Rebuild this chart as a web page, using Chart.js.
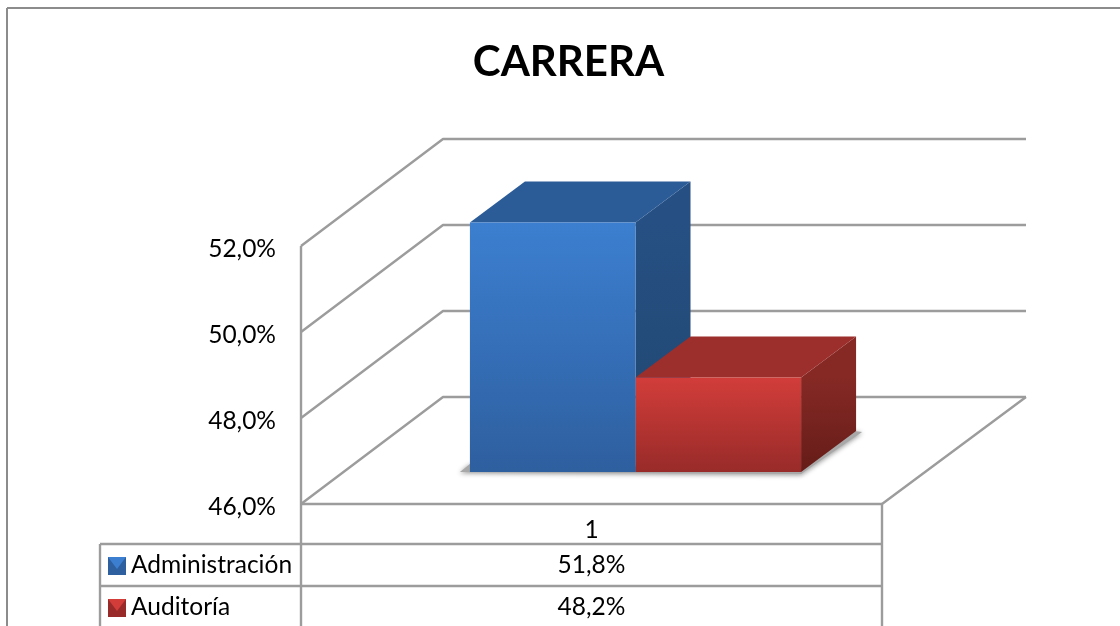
<!DOCTYPE html>
<html>
<head>
<meta charset="utf-8">
<title>CARRERA</title>
<script src="https://cdn.jsdelivr.net/npm/chart.js@4"></script>
<style>
  html, body { margin: 0; padding: 0; background: #fff; overflow: hidden; }
  #wrap { width: 1120px; height: 626px; }
</style>
</head>
<body>
<div id="wrap"><canvas id="myChart" width="1120" height="626"></canvas></div>
<script>
const chartTitle = 'CARRERA';
const categories = ['1'];
const seriesNames = ['Administración', 'Auditoría'];
const administracion = [51.8];
const auditoria = [48.2];
const yTicks = [46, 48, 50, 52];

const fontName = 'Lato';
const lineColor = '#9c9c9c';

// colores de cada serie: frente arriba, frente abajo, tapa, lado arriba, lado abajo
const blues = ['#3c7fd0', '#2e5f9f', '#2c5c98', '#265083', '#214770'];
const reds = ['#d23d3a', '#982b29', '#9c2e2b', '#862925', '#651c18'];

// profundidad de la pared y de las barras
const wallX = 142, wallY = -107;
const barX = 44, barY = -32;
const depthX = 55, depthY = -41;

function pct(v) {
    return v.toFixed(1).replace('.', ',') + '%';
}

function frontGradient(context, colors) {
    const chart = context.chart;
    const y = chart.scales.y;
    if (!y) return colors[0];
    const top = y.getPixelForValue(context.dataset.data[0]);
    const bottom = y.getPixelForValue(yTicks[0]);
    if (!isFinite(top) || !isFinite(bottom)) return colors[0];
    const g = chart.ctx.createLinearGradient(0, top, 0, bottom);
    g.addColorStop(0, colors[0]);
    g.addColorStop(1, colors[1]);
    return g;
}

function line(ctx, x1, y1, x2, y2) {
    ctx.beginPath();
    ctx.moveTo(x1, y1);
    ctx.lineTo(x2, y2);
    ctx.stroke();
}

function poly(ctx, pts, fill) {
    ctx.beginPath();
    ctx.moveTo(pts[0][0], pts[0][1]);
    for (let i = 1; i < pts.length; i++) ctx.lineTo(pts[i][0], pts[i][1]);
    ctx.closePath();
    ctx.fillStyle = fill;
    ctx.fill();
}

// paredes, piso y caras de las barras que Chart.js no dibuja
const box3d = {
    id: 'box3d',
    afterLayout(chart) {
        // el titulo va centrado un poco a la derecha del lienzo
        chart.titleBlock.left += 54;
    },
    beforeDatasetsDraw(chart) {
        const ctx = chart.ctx;
        const area = chart.chartArea;
        const y = chart.scales.y;
        const floorY = y.getPixelForValue(yTicks[0]);
        ctx.save();
        ctx.strokeStyle = lineColor;
        ctx.lineWidth = 2.4;
        ctx.lineJoin = 'round';

        line(ctx, area.left, area.top, area.left, area.bottom);
        yTicks.forEach(function (t) {
            const py = y.getPixelForValue(t);
            ctx.beginPath();
            ctx.moveTo(area.left, py);
            ctx.lineTo(area.left + wallX, py + wallY);
            ctx.lineTo(area.right + wallX + 2, py + wallY);
            ctx.stroke();
        });
        // piso
        line(ctx, area.left, area.bottom, area.right, area.bottom);
        line(ctx, area.right, area.bottom, area.right + wallX + 2, area.bottom + wallY);

        // sombra de las barras
        const m0 = chart.getDatasetMeta(0).data[0];
        const m1 = chart.getDatasetMeta(1).data[0];
        const base = floorY + barY;
        const l = m0.x - m0.width / 2 + barX;
        const r = m1.x + m1.width / 2 + barX;
        ctx.save();
        ctx.shadowColor = 'rgba(0,0,0,0.45)';
        ctx.shadowBlur = 5;
        ctx.shadowOffsetY = 1;
        poly(ctx, [[l - 10, base], [r, base + 2], [r + depthX + 6, base + depthY + 1], [r + depthX - 2, base + depthY], [r, base - 3], [l, base - 8]], '#a8a8a8');
        ctx.restore();

        [blues, reds].forEach(function (colors, i) {
            const bar = chart.getDatasetMeta(i).data[0];
            const x0 = bar.x - bar.width / 2 + barX;
            const x1 = bar.x + bar.width / 2 + barX;
            const top = bar.y + barY;
            const side = ctx.createLinearGradient(0, top, 0, base);
            side.addColorStop(0, colors[3]);
            side.addColorStop(1, colors[4]);
            poly(ctx, [[x1, top], [x1 + depthX, top + depthY], [x1 + depthX, base + depthY], [x1, base]], side);
            poly(ctx, [[x0, top], [x0 + depthX, top + depthY], [x1 + depthX, top + depthY], [x1, top]], colors[2]);
        });
        ctx.restore();

        // las caras frontales salen corridas hacia el fondo
        ctx.save();
        ctx.translate(barX, barY);
    },
    afterDatasetsDraw(chart) {
        chart.ctx.restore();
    },
    afterDraw(chart) {
        const ctx = chart.ctx;
        const area = chart.chartArea;
        const tableLeft = 100, row1 = 544, row2 = 586, bottom = 626;
        const midX = (area.left + area.right) / 2;
        ctx.save();

        // marco exterior
        ctx.strokeStyle = '#8c8c8c';
        ctx.lineWidth = 2;
        line(ctx, 7, 8, 1120, 8);
        line(ctx, 7, 8, 7, bottom);

        // tabla de datos
        ctx.strokeStyle = lineColor;
        ctx.lineWidth = 2.4;
        line(ctx, tableLeft, row1, area.right, row1);
        line(ctx, tableLeft, row2, area.right, row2);
        line(ctx, tableLeft, row1, tableLeft, bottom);
        line(ctx, area.left, area.bottom, area.left, bottom);
        line(ctx, area.right, area.bottom, area.right, bottom);

        const values = [administracion, auditoria];
        const rows = [row1, row2];
        const icons = [blues, reds];
        ctx.font = '24.5px ' + fontName;
        ctx.textBaseline = 'middle';
        seriesNames.forEach(function (name, i) {
            const cy = rows[i] + 21;
            ctx.textAlign = 'left';
            ctx.fillStyle = '#000';
            ctx.fillText(name, 131, cy);
            ctx.textAlign = 'center';
            ctx.fillText(pct(values[i][0]), midX, cy);

            // icono de la leyenda
            const ix = 108, iy = cy - 8, s = 18;
            ctx.fillStyle = icons[i][1];
            ctx.fillRect(ix, iy, s, s);
            poly(ctx, [[ix, iy], [ix + s, iy], [ix + s / 2, iy + s / 2 + 3]], icons[i][0]);
        });
        ctx.restore();
    }
};

document.addEventListener('DOMContentLoaded', function () {
    const ctx = document.getElementById('myChart').getContext('2d');

    new Chart(ctx, {
        type: 'bar',
        data: {
            labels: categories,
            datasets: [
                {
                    label: seriesNames[0],
                    data: administracion,
                    backgroundColor: function (c) { return frontGradient(c, blues); },
                    borderWidth: 0
                },
                {
                    label: seriesNames[1],
                    data: auditoria,
                    backgroundColor: function (c) { return frontGradient(c, reds); },
                    borderWidth: 0
                }
            ]
        },
        options: {
            responsive: false,
            animation: false,
            devicePixelRatio: 1,
            categoryPercentage: 0.57,
            barPercentage: 1,
            layout: { padding: { left: 201, right: 238, top: 0, bottom: 82 } },
            scales: {
                x: {
                    grid: { display: false },
                    border: { display: false },
                    ticks: { color: '#000', font: { family: fontName, size: 24.5 }, padding: 3, maxRotation: 0 },
                    afterFit: function (s) { s.height = 40; }
                },
                y: {
                    min: 46,
                    max: 52,
                    grid: { display: false },
                    border: { display: false },
                    ticks: {
                        stepSize: 2,
                        color: '#000',
                        font: { family: fontName, size: 24.5 },
                        padding: 17,
                        labelOffset: 3,
                        callback: function (value) { return pct(value); }
                    },
                    afterFit: function (s) { s.width = 100; }
                }
            },
            plugins: {
                legend: { display: false },
                tooltip: { enabled: false },
                title: {
                    display: true,
                    text: chartTitle,
                    color: '#000',
                    font: { family: fontName, size: 42, weight: 'bold', lineHeight: 1.2 },
                    padding: { top: 37, bottom: 158.6 }
                }
            }
        },
        plugins: [box3d]
    });
});
</script>
</body>
</html>
